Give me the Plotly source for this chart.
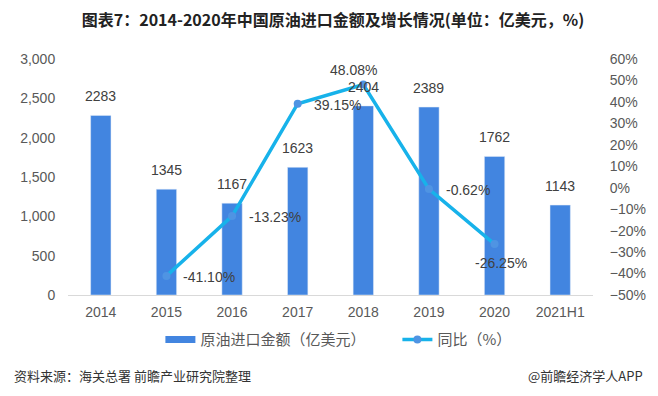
import plotly.graph_objects as go

categories = ["2014", "2015", "2016", "2017", "2018", "2019", "2020", "2021H1"]
import_amount = [2283, 1345, 1167, 1623, 2404, 2389, 1762, 1143]
growth_years = ["2015", "2016", "2017", "2018", "2019", "2020"]
growth_rate = [-41.10, -13.23, 39.15, 48.08, -0.62, -26.25]
growth_labels = ["-41.10%", "-13.23%", "39.15%", "48.08%", "-0.62%", "-26.25%"]

BAR_COLOR = "#4285e0"
LINE_COLOR = "#17b2ea"
MARKER_COLOR = "#4f94e3"
FONT = "Noto Sans CJK SC, Liberation Sans, sans-serif"
NUMFONT = "Liberation Sans, Arial, sans-serif"
TXT = "#404040"
TICK = "#595959"
CLEAR = "rgba(0,0,0,0)"

# category positions on the x axis
cat_pos = list(range(len(categories)))
growth_pos = [categories.index(y) for y in growth_years]

fig = go.Figure()
fig.add_trace(go.Bar(
    x=cat_pos, y=import_amount, name="原油进口金额（亿美元）",
    marker_color=BAR_COLOR, showlegend=False, width=0.31,
))
# legend entry for bars (wide swatch)
fig.add_trace(go.Scatter(
    x=[None], y=[None], name="原油进口金额（亿美元）", mode="lines",
    line=dict(color=BAR_COLOR, width=7), showlegend=True,
))
fig.add_trace(go.Scatter(
    x=growth_pos, y=growth_rate, name="同比（%）", yaxis="y2",
    mode="lines+markers",
    line=dict(color=LINE_COLOR, width=3.5),
    marker=dict(size=8, color=MARKER_COLOR),
))

# bar value labels
for xv, yv in zip(cat_pos, import_amount):
    fig.add_annotation(x=xv, y=yv, xref="x", yref="y", text=str(yv), showarrow=False,
                       yanchor="bottom", yshift=9,
                       font=dict(size=14, color=TXT, family=NUMFONT))

# growth-rate labels: (xanchor, xshift, yshift)
label_place = [("left", 15, -1), ("left", 15, -1), ("left", 14, -1),
               ("center", -10, 15), ("left", 15, -1), ("center", 6, -19)]
for xv, yv, lab, (xa, dx, dy) in zip(growth_pos, growth_rate, growth_labels, label_place):
    fig.add_annotation(x=xv, y=yv, xref="x", yref="y2", text=lab, showarrow=False,
                       xanchor=xa, xshift=dx, yshift=dy,
                       font=dict(size=14, color=TXT, family=NUMFONT))

fig.update_layout(
    width=650, height=388,
    margin=dict(l=56, r=54, t=51, b=101),
    paper_bgcolor="white", plot_bgcolor="white",
    font=dict(family=FONT, size=14, color=TICK),
    title=dict(text="<b>图表7：2014-2020年中国原油进口金额及增长情况(单位：亿美元，%)</b>",
               x=0.5, xanchor="center", y=0.969, yanchor="middle",
               font=dict(size=16, color="#222222", family=FONT)),
    showlegend=True,
    legend=dict(orientation="h", x=0.176, xanchor="left", y=-0.19, yanchor="middle",
                font=dict(size=15, color=TICK, family=FONT),
                entrywidth=192, traceorder="normal"),
    xaxis=dict(range=[-0.5, len(categories) - 0.5], tickvals=cat_pos, ticktext=categories,
               showgrid=False, showline=True, linecolor="#d9d9d9",
               ticks="outside", ticklen=4, tickcolor=CLEAR, zeroline=False,
               tickfont=dict(size=14, color=TICK, family=NUMFONT)),
    yaxis=dict(range=[0, 3000], dtick=500, tickformat=",", showgrid=False,
               zeroline=False, showline=False,
               ticks="outside", ticklen=9, tickcolor=CLEAR,
               tickfont=dict(size=14, color=TICK, family=NUMFONT)),
    yaxis2=dict(range=[-50, 60], dtick=10, ticksuffix="%", overlaying="y", side="right",
                showgrid=False, zeroline=False, showline=False,
                ticks="outside", ticklen=13, tickcolor=CLEAR,
                tickfont=dict(size=14, color=TICK, family=NUMFONT)),
)

fig.add_annotation(x=0, xref="paper", xanchor="left", xshift=-56, y=-0.339, yref="paper",
                   yanchor="middle", text="资料来源：海关总署 前瞻产业研究院整理",
                   showarrow=False, font=dict(size=13, color="#333333", family=FONT))
fig.add_annotation(x=1, xref="paper", xanchor="right", xshift=52, y=-0.339, yref="paper",
                   yanchor="middle", text="@前瞻经济学人APP",
                   showarrow=False, font=dict(size=13, color="#333333", family=FONT))

fig.write_html("out.html")
